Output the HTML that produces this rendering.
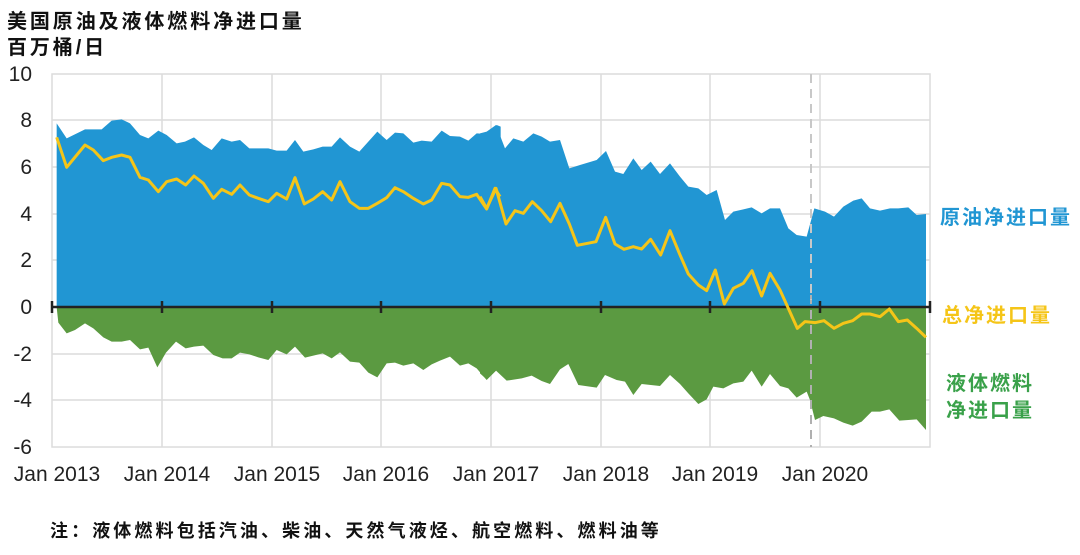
<!DOCTYPE html>
<html><head><meta charset="utf-8"><style>
body{margin:0;background:#fff;width:1080px;height:555px;overflow:hidden;font-family:"Liberation Sans","Noto Sans CJK SC",sans-serif}
</style></head><body>
<svg width="1080" height="555" xmlns="http://www.w3.org/2000/svg" style="position:absolute;left:0;top:0">
<g font-family="Liberation Sans, Noto Sans CJK SC, sans-serif">
<text x="7" y="28" font-size="20" font-weight="bold" fill="#111" letter-spacing="2.9">美国原油及液体燃料净进口量</text>
<text x="7" y="54" font-size="20" font-weight="bold" fill="#111" letter-spacing="2.9">百万桶/日</text>
</g>
<g stroke="#dcdcdc" stroke-width="1.5" fill="none">
<rect x="52" y="74" width="878" height="373"/>
<line x1="52" y1="120" x2="930" y2="120"/><line x1="52" y1="167" x2="930" y2="167"/>
<line x1="52" y1="214" x2="930" y2="214"/><line x1="52" y1="260" x2="930" y2="260"/>
<line x1="52" y1="354" x2="930" y2="354"/><line x1="52" y1="400" x2="930" y2="400"/>
<line x1="162" y1="74" x2="162" y2="447"/><line x1="272" y1="74" x2="272" y2="447"/>
<line x1="381" y1="74" x2="381" y2="447"/><line x1="491" y1="74" x2="491" y2="447"/>
<line x1="601" y1="74" x2="601" y2="447"/><line x1="710" y1="74" x2="710" y2="447"/>
<line x1="820" y1="74" x2="820" y2="447"/>
</g>
<g transform="translate(40,100) scale(0.33333)">
<polygon fill="#2196d3" points="50,70 80,115 135,88 185,88 215,62 245,58 270,70 300,105 325,115 355,92 380,105 410,130 435,125 462,112 490,135 515,150 545,115 575,125 600,120 628,145 685,145 710,152 740,152 765,120 790,155 820,148 848,140 875,140 900,112 930,140 958,155 985,125 1012,95 1040,120 1065,98 1090,100 1120,128 1145,122 1175,125 1205,92 1230,108 1260,110 1285,122 1310,100 1340,102 1370,75 1382,80 1382,622 50,622"/>
<polygon fill="#5b9a41" points="50,622 55,668 80,700 105,690 135,670 160,685 190,712 215,725 245,725 270,720 300,748 325,743 352,802 378,758 408,725 437,745 462,740 490,737 520,765 548,775 575,775 600,758 628,763 655,772 685,780 710,750 740,763 765,740 795,773 820,767 848,760 875,775 900,757 930,785 958,788 985,818 1012,832 1040,790 1065,788 1090,797 1120,790 1150,810 1175,793 1200,782 1230,770 1260,797 1285,790 1310,805 1340,840 1370,810 1382,815 1382,622"/>
</g>
<g transform="translate(480,100) scale(0.33333)">
<polygon fill="#2196d3" points="0,100 20,95 48,75 75,145 100,115 130,125 160,100 185,110 210,125 240,120 268,205 300,195 350,180 378,153 405,215 430,222 460,175 485,210 512,185 540,222 570,190 600,230 625,260 655,265 680,285 710,270 735,360 760,335 790,328 815,322 845,340 870,325 900,325 925,385 950,405 980,410 1003,325 1035,335 1062,350 1090,320 1120,302 1145,295 1170,325 1200,332 1230,325 1255,325 1285,322 1310,345 1338,342 1338,622 0,622"/>
<polygon fill="#5b9a41" points="0,622 0,820 20,838 48,812 80,842 125,835 155,827 185,843 210,852 240,808 265,792 295,855 350,863 375,825 410,840 435,845 460,885 485,852 540,858 570,825 600,852 625,880 655,912 680,898 700,860 730,865 760,850 790,845 815,812 845,860 870,822 900,858 925,865 950,893 980,875 990,900 1005,960 1030,948 1062,955 1090,968 1118,977 1145,965 1175,935 1200,935 1228,928 1258,962 1285,960 1310,958 1338,990 1338,622"/>
</g>
<line x1="811" y1="295" x2="811" y2="447" stroke="#b0b0b0" stroke-width="2" stroke-dasharray="9,6"/>
<line x1="811" y1="74" x2="811" y2="300" stroke="#c8c8c8" stroke-width="2" stroke-dasharray="9,6"/>
<g stroke="#222" stroke-width="2.5">
<line x1="52" y1="307" x2="930" y2="307"/>
<line x1="52" y1="301" x2="52" y2="313"/><line x1="162" y1="301" x2="162" y2="313"/>
<line x1="272" y1="301" x2="272" y2="313"/><line x1="381" y1="301" x2="381" y2="313"/>
<line x1="491" y1="301" x2="491" y2="313"/><line x1="601" y1="301" x2="601" y2="313"/>
<line x1="710" y1="301" x2="710" y2="313"/><line x1="820" y1="301" x2="820" y2="313"/>
<line x1="930" y1="301" x2="930" y2="313"/>
</g>
<g fill="none" stroke="#f5c518" stroke-width="3" stroke-linejoin="round">
<polyline transform="translate(40,100) scale(0.33333)" vector-effect="non-scaling-stroke" points="50,112 80,202 135,135 160,150 190,182 215,172 245,165 270,172 300,232 325,240 355,275 380,245 410,237 437,255 462,228 490,250 520,295 545,268 575,283 600,255 628,285 655,295 685,305 710,280 740,297 765,233 793,312 820,297 848,275 875,300 900,245 930,305 958,325 985,325 1012,310 1040,293 1065,263 1090,275 1120,295 1150,312 1175,300 1205,250 1230,255 1260,290 1285,292 1310,283 1340,327 1365,265 1380,290"/>
<polyline transform="translate(480,100) scale(0.33333)" vector-effect="non-scaling-stroke" points="0,290 20,325 48,265 78,372 105,332 130,340 157,305 185,332 212,365 240,310 268,372 292,436 348,425 377,352 405,432 432,448 460,440 485,447 512,418 542,465 570,392 598,460 625,522 655,555 680,572 706,510 733,612 760,565 790,550 816,512 845,588 870,520 900,570 925,625 952,685 975,665 1005,668 1032,662 1062,685 1090,670 1118,662 1145,642 1170,642 1200,650 1228,627 1255,665 1282,660 1310,685 1338,712"/>
</g>
<g font-family="Liberation Sans, sans-serif" font-size="21" fill="#222" text-anchor="end">
<text x="32" y="81">10</text><text x="32" y="127">8</text><text x="32" y="174">6</text>
<text x="32" y="221">4</text><text x="32" y="267">2</text><text x="32" y="314">0</text>
<text x="32" y="361">-2</text><text x="32" y="407">-4</text><text x="32" y="454">-6</text>
</g>
<g font-family="Liberation Sans, sans-serif" font-size="21" fill="#222" text-anchor="middle">
<text x="57" y="481">Jan 2013</text><text x="167" y="481">Jan 2014</text><text x="277" y="481">Jan 2015</text>
<text x="386" y="481">Jan 2016</text><text x="496" y="481">Jan 2017</text><text x="606" y="481">Jan 2018</text>
<text x="715" y="481">Jan 2019</text><text x="825" y="481">Jan 2020</text>
</g>
<g font-family="Liberation Sans, Noto Sans CJK SC, sans-serif" font-size="20" font-weight="bold" letter-spacing="2">
<text x="940" y="224" fill="#2196d3">原油净进口量</text>
<text x="942" y="322" fill="#f5c518">总净进口量</text>
<text x="946" y="390" fill="#3aa14a">液体燃料</text>
<text x="946" y="417" fill="#3aa14a">净进口量</text>
<text x="50" y="537" font-size="18" fill="#111" letter-spacing="3.1">注：液体燃料包括汽油、柴油、天然气液烃、航空燃料、燃料油等</text>
</g>
</svg>
</body></html>
